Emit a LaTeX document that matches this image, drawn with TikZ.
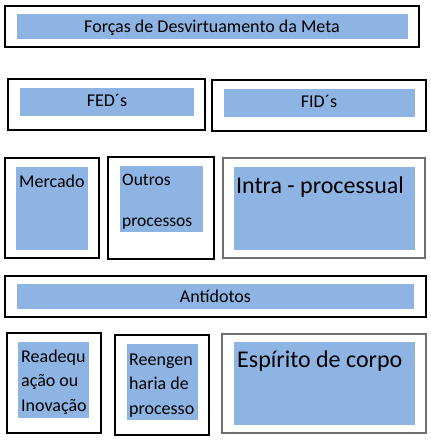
\documentclass[tikz,border=0pt]{standalone}
\usepackage{fontspec}
\setmainfont{Carlito}
\definecolor{azulcaixa}{HTML}{8EB4E3}
\definecolor{bordacinza}{HTML}{6E6E6E}

\begin{document}
\begin{tikzpicture}[x=1pt,y=-1pt,
    moldura/.style={draw=black, line width=1.6pt, fill=white},
    moldurafina/.style={draw=bordacinza, line width=1.2pt, fill=white},
    fundo/.style={fill=azulcaixa},
    rotulo/.style={inner sep=0pt, font=\fontsize{18}{24.5}\selectfont, align=left},
    rotulogrande/.style={inner sep=0pt, font=\fontsize{24}{28}\selectfont}]

    \useasboundingbox (0,0) rectangle (431,448);

    % titulo
    \draw[moldura] (5,6) rectangle (419,47);
    \fill[fundo] (17,14) rectangle (408,39);
    \node[rotulo, anchor=base] (titulo) at (212,32.7) {Forças de Desvirtuamento da Meta};

    % FED e FID
    \draw[moldura] (8,79) rectangle (205,130);
    \fill[fundo] (20,88) rectangle (194,116);
    \node[rotulo, anchor=base] (fed) at (107,106) {FED´s};

    \draw[moldura] (212,80) rectangle (426,131);
    \fill[fundo] (224,89) rectangle (415,117);
    \node[rotulo, anchor=base] (fid) at (319,107) {FID´s};

    % causas
    \draw[moldura] (5,158) rectangle (99,258);
    \fill[fundo] (16,167) rectangle (88,250);
    \node[rotulo, anchor=base west] (mercado) at (19,187.5) {Mercado};

    \draw[moldura] (108,157) rectangle (214,259);
    \fill[fundo] (120,166) rectangle (203,232);
    \node[rotulo, anchor=base west, font=\fontsize{17.5}{41}\selectfont] (outros) at (122,226.5) {Outros\\processos};

    \draw[moldurafina] (223,158) rectangle (425,258);
    \fill[fundo] (234,167) rectangle (415,250);
    \node[rotulogrande, anchor=base west] (intra) at (236,193) {Intra - processual};

    % antidotos
    \draw[moldura] (5,276) rectangle (426,317);
    \fill[fundo] (17,284) rectangle (414,309);
    \node[rotulo, anchor=base] (antidotos) at (215.5,302.7) {Antídotos};

    \draw[moldura] (7,333) rectangle (101,433);
    \fill[fundo] (18,342) rectangle (89,418);
    \node[rotulo, anchor=base west] (readequacao) at (21,411) {Readequ\\ação ou\\Inovação};

    \draw[moldura] (115,335) rectangle (209,435);
    \fill[fundo] (127,344) rectangle (198,420);
    \node[rotulo, anchor=base west] (reengenharia) at (129,414) {Reengen\\haria de\\processo};

    \draw[moldurafina] (222,334) rectangle (426,433);
    \fill[fundo] (234,342) rectangle (415,425);
    \node[rotulogrande, anchor=base west] (espirito) at (237,367) {Espírito de corpo};
\end{tikzpicture}
\end{document}
